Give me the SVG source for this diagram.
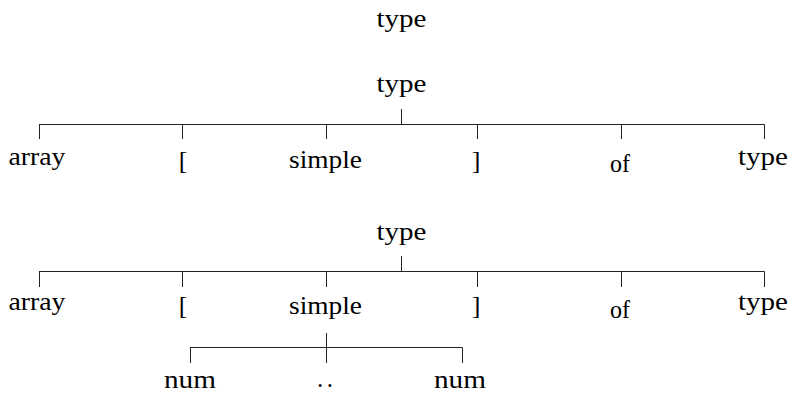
<svg xmlns="http://www.w3.org/2000/svg" width="789" height="394" viewBox="0 0 789 394">
<style>
.c line{stroke:#222;stroke-width:1}
</style>
<rect width="789" height="394" fill="#fff"/>
<g font-family="Liberation Serif" font-size="26" fill="#000" text-anchor="middle">
<g id="title"><text x="401.5" y="27" font-family="Liberation Serif" textLength="50" lengthAdjust="spacingAndGlyphs">type</text></g>
<g id="t1-root"><text x="401.5" y="92" font-family="Liberation Serif" textLength="50" lengthAdjust="spacingAndGlyphs">type</text></g>
<g id="t1-array"><text x="37" y="165" font-family="Liberation Serif" textLength="57" lengthAdjust="spacingAndGlyphs">array</text></g>
<g id="t1-lb"><text x="183" y="169" font-family="Liberation Serif">[</text></g>
<g id="t1-simple"><text x="325.5" y="168" font-family="Liberation Serif" textLength="73" lengthAdjust="spacingAndGlyphs">simple</text></g>
<g id="t1-rb"><text x="476" y="169" font-family="Liberation Serif">]</text></g>
<g id="t1-of"><text x="620" y="172" font-family="Liberation Serif" textLength="20" lengthAdjust="spacingAndGlyphs">of</text></g>
<g id="t1-type"><text x="763" y="165" font-family="Liberation Serif" textLength="50" lengthAdjust="spacingAndGlyphs">type</text></g>
<g id="t2-root"><text x="401.5" y="240" font-family="Liberation Serif" textLength="50" lengthAdjust="spacingAndGlyphs">type</text></g>
<g id="t2-array"><text x="37" y="310" font-family="Liberation Serif" textLength="57" lengthAdjust="spacingAndGlyphs">array</text></g>
<g id="t2-lb"><text x="183" y="314" font-family="Liberation Serif">[</text></g>
<g id="t2-simple"><text x="325.5" y="314" font-family="Liberation Serif" textLength="73" lengthAdjust="spacingAndGlyphs">simple</text></g>
<g id="t2-rb"><text x="476" y="314" font-family="Liberation Serif">]</text></g>
<g id="t2-of"><text x="620" y="318" font-family="Liberation Serif" textLength="20" lengthAdjust="spacingAndGlyphs">of</text></g>
<g id="t2-type"><text x="763" y="310" font-family="Liberation Serif" textLength="50" lengthAdjust="spacingAndGlyphs">type</text></g>
<g id="t2-num1"><text x="190" y="388" font-family="Liberation Serif" font-size="25" textLength="52" lengthAdjust="spacingAndGlyphs">num</text></g>
<g id="t2-dots"><text x="325" y="387" font-family="Liberation Serif" font-size="25" textLength="16" lengthAdjust="spacing">..</text></g>
<g id="t2-num2"><text x="460" y="388" font-family="Liberation Serif" font-size="25" textLength="52" lengthAdjust="spacingAndGlyphs">num</text></g>
</g>
<g class="c" id="connectors">
<line x1="401.5" y1="109" x2="401.5" y2="124.5"/>
<line x1="39" y1="124.5" x2="764.5" y2="124.5"/>
<line x1="39.5" y1="124.5" x2="39.5" y2="139"/>
<line x1="182.5" y1="124.5" x2="182.5" y2="139"/>
<line x1="326.5" y1="124.5" x2="326.5" y2="139"/>
<line x1="477.5" y1="124.5" x2="477.5" y2="139"/>
<line x1="621.5" y1="124.5" x2="621.5" y2="139"/>
<line x1="764.5" y1="124.5" x2="764.5" y2="139"/>
<line x1="401.5" y1="256" x2="401.5" y2="271.5"/>
<line x1="39" y1="271.5" x2="764.5" y2="271.5"/>
<line x1="39.5" y1="271.5" x2="39.5" y2="287"/>
<line x1="182.5" y1="271.5" x2="182.5" y2="287"/>
<line x1="326.5" y1="271.5" x2="326.5" y2="287"/>
<line x1="477.5" y1="271.5" x2="477.5" y2="287"/>
<line x1="621.5" y1="271.5" x2="621.5" y2="287"/>
<line x1="764.5" y1="271.5" x2="764.5" y2="287"/>
<line x1="326.5" y1="333" x2="326.5" y2="363"/>
<line x1="190" y1="347.5" x2="462.5" y2="347.5"/>
<line x1="190.5" y1="347.5" x2="190.5" y2="363"/>
<line x1="462.5" y1="347.5" x2="462.5" y2="363"/>
</g>
</svg>
